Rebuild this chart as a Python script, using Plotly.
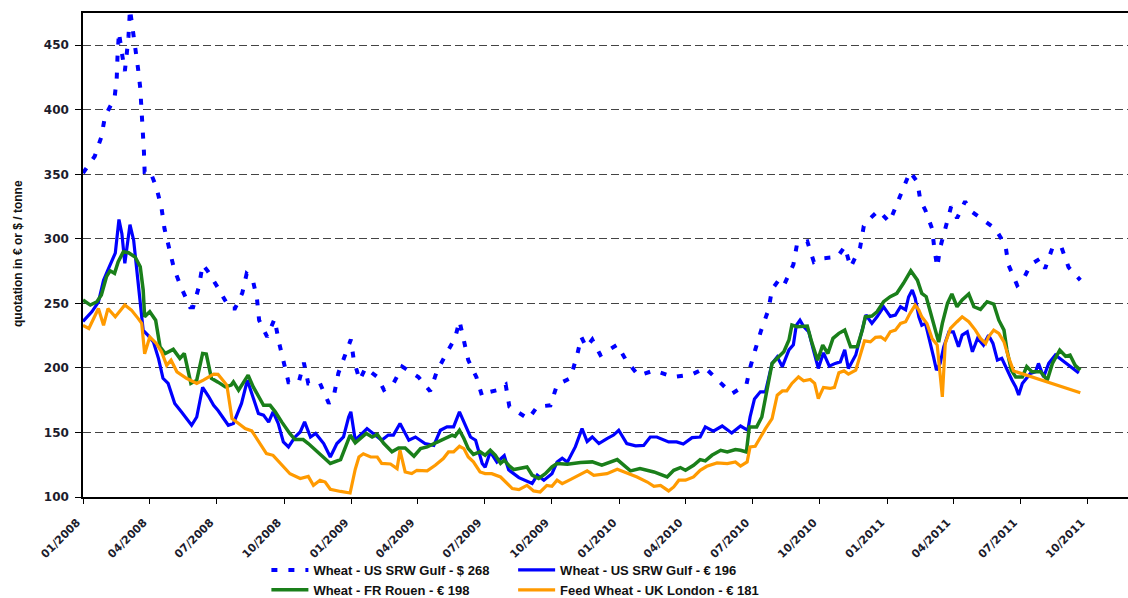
import pandas as pd
import plotly.graph_objects as go

DAY0 = "2008-01-01"

# Wheat - US SRW Gulf - $ (day offsets from DAY0, values in $/t)
usd_days = [0,16,25,30,43,46,47,49,53,57,
            59,62,64,67,72,75,78,80,81,83,
            84,91,100,107,111,117,124,134,146,150,
            158,163,170,184,200,207,217,223,231,237,
            240,251,261,267,273,280,294,301,307,323,
            335,342,348,357,365,369,377,385,401,410,
            423,435,457,473,482,494,507,513,519,525,
            536,544,551,566,576,581,607,619,637,646,
            664,673,679,686,694,705,728,740,757,778,
            805,830,848,868,884,904,909,916,924,934,
            939,948,955,968,973,987,996,1009,1028,1038,
            1046,1059,1064,1071,1084,1099,1107,1118,1127,1137,
            1141,1148,1157,1160,1164,1168,1175,1183,1191,1202,
            1209,1218,1230,1243,1257,1261,1273,1280,1291,1305,
            1311,1321,1333,1343,1359]
usd_vals = [351,364,379,395,409,425,441,460,444,430,
            440,457,478,465,449,432,417,400,385,368,
            352,353,340,324,308,293,277,262,247,247,
            263,280,275,262,246,246,258,273,269,254,
            237,224,238,220,204,189,189,204,188,188,
            172.5,179,196,210,222,206,190.5,200,193,183,
            188,201,193,182,197,210,223,236.5,221,206,
            193,178,181,183,187,170,160.5,170,171,187,
            192,209,224,216,222,210,218,206,194,198,
            193,195,200,189,180,187,200,214,229,245,
            261,268,264,280,296,298,282,285,286,294,
            278,293.5,310,315,322,313,324,339,352,344,
            330,322,308,293,278,293,308,325,316,329,
            322,318.5,313,308,295,280,264,267,280,285,
            277,293,294,278,268]

# Wheat - US SRW Gulf - EUR
eur_days = [0,12,21,28,34,44,49,53,57,61,
            64,69,73,78,82,89,96,103,109,116,
            125,134,148,155,163,171,178,184,198,205,
            216,224,232,239,246,253,259,266,273,280,
            289,296,302,307,310,317,328,337,346,355,
            362,365,371,387,398,407,416,423,432,444,
            453,466,478,487,496,505,513,521,528,535,
            544,548,555,564,574,580,594,612,619,628,
            639,646,653,660,671,680,687,694,703,714,
            723,730,741,753,764,773,782,798,809,818,
            830,841,848,859,871,884,896,906,909,915,
            923,930,939,946,953,962,968,972,977,982,
            989,996,1002,1009,1017,1025,1032,1038,1043,1053,
            1059,1067,1075,1082,1091,1100,1107,1114,1121,1125,
            1130,1134,1139,1143,1148,1155,1159,1163,1168,1173,
            1180,1186,1193,1198,1205,1212,1219,1227,1234,1240,
            1246,1252,1259,1266,1271,1275,1280,1284,1291,1298,
            1302,1309,1316,1325,1334,1345,1357]
eur_vals = [236,243.5,251,268,276,289,315,304,281,299,
            311,299,278,253,229,225,220,207,192,188,
            172.5,166,155.6,162,185,178,171,167,155.6,157,
            172.5,190.5,177.6,164.7,163.4,158,166,157,142.7,138.8,
            146.5,150.4,158.2,151.7,146.5,149.2,141.4,131,141.4,146.5,
            162,166,144,153,148,144,148,148,157,144,
            146.5,141.4,140,151.7,154.3,154.3,166,155.6,146.5,144,
            126,123,135,127,132,121,115,110.4,117,113,
            118,127,130,127,139,153,143,146.5,141.4,145.3,
            148,151.7,141.4,139.6,140,146.5,146.5,142.7,142.7,141,
            146,146.5,154.3,151,155,149.6,155,151.7,162,176,
            181.5,181.5,203.5,208.6,201,214,218,233,237,232,
            228,212.5,199.6,211.7,201.4,203.5,204.7,214,199.6,210,
            223,241,234.5,239.6,247.4,240,241,247.4,245,255,
            260.4,254,239.6,233,234.5,219,208.6,198.3,203.5,216.4,
            228,228,216.4,225.4,228,212.5,223,217.7,225.4,219,
            206,207.4,198.3,190.5,185.3,179,188,190.5,195.7,197,
            203.5,193,203.5,210,206,201,196]

# Wheat - FR Rouen - EUR
fr_days = [0,10,19,25,32,37,43,48,55,62,
           71,78,82,84,91,99,105,112,123,132,
           138,147,155,163,168,175,184,194,202,205,
           212,225,232,246,255,262,271,282,289,300,
           307,312,321,330,337,351,357,364,371,378,
           386,394,401,410,421,430,439,451,460,469,
           478,487,494,503,507,513,519,525,532,541,
           548,555,562,569,574,580,587,596,605,612,
           621,630,639,646,660,678,694,707,719,728,
           746,759,778,796,805,814,821,832,841,848,
           857,869,878,889,896,904,908,918,925,932,
           939,948,955,962,966,973,987,993,1001,1008,
           1015,1022,1030,1038,1046,1055,1062,1066,1075,1082,
           1091,1100,1109,1118,1128,1137,1143,1149,1155,1162,
           1166,1171,1178,1184,1191,1198,1207,1214,1223,1232,
           1241,1248,1255,1259,1265,1271,1280,1286,1293,1305,
           1314,1321,1331,1339,1345,1352,1359]
fr_vals = [252.6,248.7,251.3,256.5,270.7,275.3,273.3,282.3,290,289.3,
           286,278.4,260.4,239.6,243.5,237,216.4,211.2,214.4,207.4,
           211.2,188,190.5,211.2,210.7,192,189,185.3,186.7,189.2,
           182.8,194.4,185.3,171,171,166,158,149,144.5,144.5,
           141.4,138.8,134.9,129.8,126,129,137.5,148,142,145.3,
           149.2,146.5,148.4,141.4,135,138,138,131.6,137.5,138.8,
           141.4,144,145.3,148,147,151.7,145.3,137.5,133,135,
           132.3,136.2,132.3,126,128.5,124.6,121.3,122,123.3,117,
           114.3,118,123.3,126,125.4,126.7,127.2,124.6,127.2,129,
           120.2,122,119.4,115.5,120.7,122.8,120.7,124.6,129,128,
           132.3,136.2,134.9,136.8,136.2,134.9,154.3,154.3,162,182.8,
           203.5,208.6,212.5,221.6,233.2,232,232.4,220,206,217.7,
           211.2,222.9,226.8,229.3,216.4,216.4,229.3,239.6,240.2,243.5,
           251.3,255.2,257.8,265.6,275.3,268,257.8,255.2,242.3,228,
           220,234.5,250,257.3,247.4,252.6,257.3,247.4,245.4,251.3,
           249.5,237,229.3,213.8,198.3,193,193,201,197,197,
           190.5,203.5,213.8,209,210,202,198.3]

# Feed Wheat - UK London - EUR
uk_days = [0,8,21,28,34,44,57,66,75,80,
           84,91,100,107,114,120,128,141,155,164,
           178,184,196,203,212,221,230,241,250,259,
           271,282,296,307,314,323,330,337,351,364,
           371,376,382,392,401,407,419,428,432,439,
           448,455,469,480,491,498,505,513,519,525,
           532,541,548,557,569,578,585,594,605,614,
           623,632,639,646,653,664,675,687,696,714,
           728,741,755,769,778,787,798,805,812,821,
           832,841,850,864,878,889,896,905,909,916,
           923,930,939,946,953,959,966,975,982,991,
           997,1002,1009,1018,1024,1030,1037,1043,1053,1059,
           1065,1073,1080,1087,1093,1100,1107,1114,1121,1127,
           1134,1139,1143,1150,1157,1164,1171,1175,1182,1191,
           1198,1207,1216,1223,1230,1234,1241,1248,1255,1261,
           1268,1359]
uk_vals = [233,230.6,246,233,246,239.6,248.7,244.8,238.4,234.5,
           211,224,219,212.5,202,206,197,192,188,190.5,
           195.2,195,186.7,160.8,157,153,151.2,141.4,133.7,132.3,
           124.6,118,114.3,116,109,113,111.6,106,104.3,103.1,
           121.5,131,133.5,131,131,126,125.6,122,136.2,119.4,
           118.1,120.7,120.2,124.6,129.8,134.9,134.9,139.3,137.5,131,
           127.2,119.4,118.1,118.1,115.5,110.4,106.5,105.7,109,104.7,
           103.9,109,108.3,113,110.4,113.5,116.8,120.2,116.8,118.1,
           121.5,118.6,115.5,111.6,108.3,109,104.7,107.8,113,113,
           115.5,120.7,123.8,126.4,125.9,127.2,124,127.2,138.8,139.3,
           146.5,153,160.8,178.9,182.2,182.2,188,193,190,191,
           188,176.3,184.9,184.1,184.9,196.2,197.7,195.2,198.3,210,
           221,220.2,223.7,224.1,221.6,228,229.3,234.5,235.8,242.3,
           248.7,244.8,239.6,234.5,222.9,217.7,177.6,219,230.6,235.8,
           239.6,235.8,229.3,222.9,219,224.1,229.3,226.8,220.2,208.6,
           197.7,180.7]

series_names = ["Wheat - US SRW Gulf - $ 268", "Wheat - US SRW Gulf - € 196",
                "Wheat - FR Rouen - € 198", "Feed Wheat - UK London - € 181"]
y_ticks = [100, 150, 200, 250, 300, 350, 400, 450]
y_title = "quotation in € or $ / tonne"


def to_dates(days):
    return pd.Timestamp(DAY0) + pd.to_timedelta(days, unit="D")


fig = go.Figure()
fig.add_trace(go.Scatter(x=to_dates(usd_days), y=usd_vals, mode="lines", name=series_names[0],
                         line=dict(color="#0000ff", width=4, dash="6px,11px"), legend="legend"))
fig.add_trace(go.Scatter(x=to_dates(eur_days), y=eur_vals, mode="lines", name=series_names[1],
                         line=dict(color="#0000ff", width=3.2), legend="legend2"))
fig.add_trace(go.Scatter(x=to_dates(fr_days), y=fr_vals, mode="lines", name=series_names[2],
                         line=dict(color="#1a7f1a", width=3.5), legend="legend"))
fig.add_trace(go.Scatter(x=to_dates(uk_days), y=uk_vals, mode="lines", name=series_names[3],
                         line=dict(color="#ff9a00", width=3.2), legend="legend2"))

ytick_font = dict(family="DejaVu Sans, Verdana, sans-serif", size=12, color="#1c1c2c", weight="bold")
xtick_font = dict(family="DejaVu Sans, Verdana, sans-serif", size=11, color="#1c1c2c", weight="bold")
legend_font = dict(family="Liberation Sans, Arial, sans-serif", size=13, color="#111111", weight="bold")

fig.update_layout(
    width=1128, height=598,
    margin=dict(l=83, r=0, t=13, b=101, autoexpand=False),
    paper_bgcolor="white", plot_bgcolor="white",
    showlegend=True,
    legend=dict(x=0.1755, y=-0.1197, xanchor="left", yanchor="top", orientation="v",
                font=legend_font, bgcolor="rgba(0,0,0,0)", tracegroupgap=0, itemwidth=37),
    legend2=dict(x=0.4116, y=-0.1197, xanchor="left", yanchor="top", orientation="v",
                 font=legend_font, bgcolor="rgba(0,0,0,0)", tracegroupgap=0, itemwidth=37),
    xaxis=dict(
        type="date", range=[DAY0, "2011-11-25"], automargin=False,
        tick0="2008-01-01", dtick="M3", tickformat="%m/%Y", tickangle=-45,
        ticks="outside", ticklen=5, tickcolor="#000", tickwidth=1.2,
        showline=True, linecolor="#000", linewidth=1.5, mirror=True,
        showgrid=False, zeroline=False, tickfont=xtick_font,
        ticklabelstandoff=8, ticklabelshift=-6,
    ),
    yaxis=dict(
        range=[100, 475], tickmode="array", tickvals=y_ticks, automargin=False,
        ticks="outside", ticklen=6, tickcolor="#000", tickwidth=1.2,
        showline=True, linecolor="#000", linewidth=1.5,
        showgrid=True, gridcolor="#444444", gridwidth=1, griddash="8px,4px",
        zeroline=False, tickfont=ytick_font, ticklabelstandoff=4,
    ),
    annotations=[dict(
        text=y_title, textangle=-90, xref="paper", yref="paper",
        x=-0.0622, y=0.502, xanchor="center", yanchor="middle", showarrow=False,
        font=dict(family="Liberation Sans, Arial, sans-serif", size=12, color="#111111", weight="bold"),
    )],
)

fig.write_html("out.html", config={"displayModeBar": False},
               post_script="document.body.style.margin='0px';document.body.style.overflow='hidden';")
